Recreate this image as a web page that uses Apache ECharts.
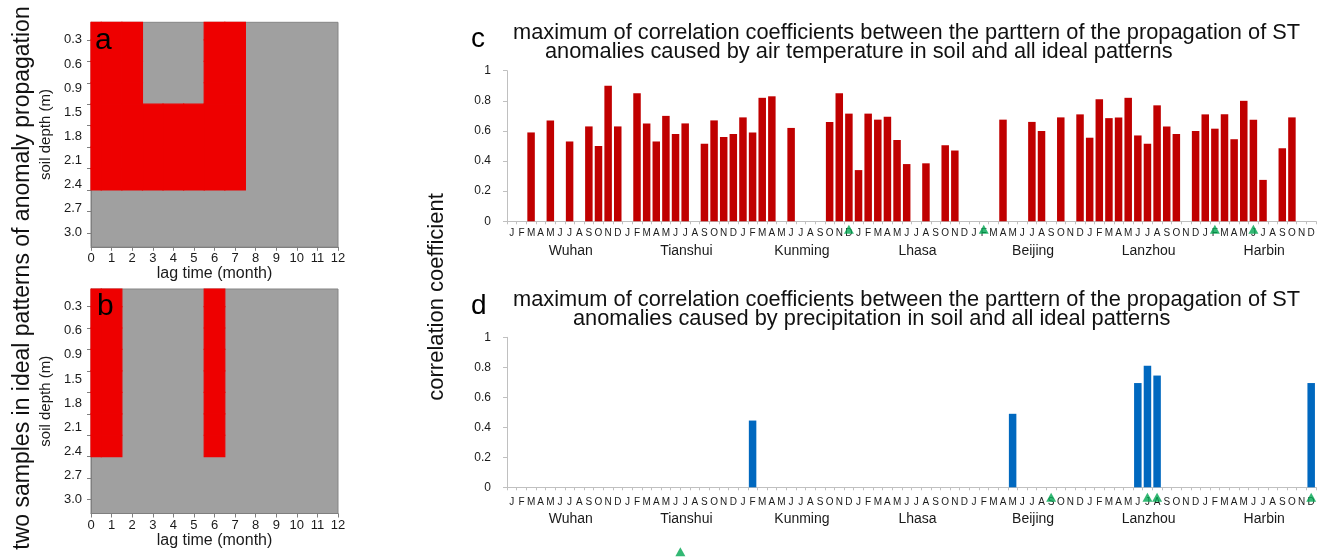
<!DOCTYPE html>
<html>
<head>
<meta charset="utf-8">
<script src="https://cdn.jsdelivr.net/npm/echarts@6/dist/echarts.min.js"></script>
<style>
  html, body { margin: 0; padding: 0; background: #fff; }
  #chart { width: 1324px; height: 560px; }
</style>
</head>
<body>
<div id="chart"></div>
<script>
// ---- data ----
const months = ['J', 'F', 'M', 'A', 'M', 'J', 'J', 'A', 'S', 'O', 'N', 'D'];
const stations = ['Wuhan', 'Tianshui', 'Kunming', 'Lhasa', 'Beijing', 'Lanzhou', 'Harbin'];
const depthLabels = ['0.3', '0.6', '0.9', '1.5', '1.8', '2.1', '2.4', '2.7', '3.0'];
const depthLevels = 10;          // soil layers marked by ticks
const lagMax = 12;               // months of lag

// ideal patterns: rows = soil layers (top to bottom), columns = lag 0..12; 1 = anomaly present
const patternA = [
  [1, 1, 1, 0, 0, 0, 1, 1, 0, 0, 0, 0, 0],
  [1, 1, 1, 0, 0, 0, 1, 1, 0, 0, 0, 0, 0],
  [1, 1, 1, 0, 0, 0, 1, 1, 0, 0, 0, 0, 0],
  [1, 1, 1, 0, 0, 0, 1, 1, 0, 0, 0, 0, 0],
  [1, 1, 1, 1, 1, 1, 1, 1, 0, 0, 0, 0, 0],
  [1, 1, 1, 1, 1, 1, 1, 1, 0, 0, 0, 0, 0],
  [1, 1, 1, 1, 1, 1, 1, 1, 0, 0, 0, 0, 0],
  [1, 1, 1, 1, 1, 1, 1, 1, 0, 0, 0, 0, 0],
  [0, 0, 0, 0, 0, 0, 0, 0, 0, 0, 0, 0, 0],
  [0, 0, 0, 0, 0, 0, 0, 0, 0, 0, 0, 0, 0],
  [0, 0, 0, 0, 0, 0, 0, 0, 0, 0, 0, 0, 0]
];
const patternB = [
  [1, 1, 0, 0, 0, 0, 1, 0, 0, 0, 0, 0, 0],
  [1, 1, 0, 0, 0, 0, 1, 0, 0, 0, 0, 0, 0],
  [1, 1, 0, 0, 0, 0, 1, 0, 0, 0, 0, 0, 0],
  [1, 1, 0, 0, 0, 0, 1, 0, 0, 0, 0, 0, 0],
  [1, 1, 0, 0, 0, 0, 1, 0, 0, 0, 0, 0, 0],
  [1, 1, 0, 0, 0, 0, 1, 0, 0, 0, 0, 0, 0],
  [1, 1, 0, 0, 0, 0, 1, 0, 0, 0, 0, 0, 0],
  [1, 1, 0, 0, 0, 0, 1, 0, 0, 0, 0, 0, 0],
  [0, 0, 0, 0, 0, 0, 0, 0, 0, 0, 0, 0, 0],
  [0, 0, 0, 0, 0, 0, 0, 0, 0, 0, 0, 0, 0],
  [0, 0, 0, 0, 0, 0, 0, 0, 0, 0, 0, 0, 0]
];

// maximum correlation per station and month (null = not significant)
const tempCorr = [
  [null, null, 0.59, null, 0.67, null, 0.53, null, 0.63, 0.50, 0.90, 0.63],   // Wuhan
  [null, 0.85, 0.65, 0.53, 0.70, 0.58, 0.65, null, 0.515, 0.67, 0.56, 0.58],  // Tianshui
  [0.69, 0.59, 0.82, 0.83, null, 0.62, null, null, null, 0.66, 0.85, 0.715],  // Kunming
  [0.34, 0.715, 0.675, 0.695, 0.54, 0.38, null, 0.385, null, 0.505, 0.47, null], // Lhasa
  [null, null, null, 0.675, null, null, 0.66, 0.60, null, 0.69, null, 0.71],  // Beijing
  [0.555, 0.81, 0.685, 0.69, 0.82, 0.57, 0.515, 0.77, 0.63, 0.58, null, 0.60], // Lanzhou
  [0.71, 0.615, 0.71, 0.545, 0.80, 0.675, 0.275, null, 0.485, 0.69, null, null] // Harbin
];
const precipCorr = [
  [null, null, null, null, null, null, null, null, null, null, null, null],
  [null, null, null, null, null, null, null, null, null, null, null, null],
  [null, 0.445, null, null, null, null, null, null, null, null, null, null],
  [null, null, null, null, null, null, null, null, null, null, null, null],
  [null, null, null, null, 0.49, null, null, null, null, null, null, null],
  [null, null, null, null, null, 0.695, 0.81, 0.745, null, null, null, null],
  [null, null, null, null, null, null, null, null, null, null, null, 0.695]
];

// highlighted station-months [station, month index]
const tempMarks = [['Kunming', 11], ['Beijing', 1], ['Harbin', 1], ['Harbin', 5]];
const precipMarks = [['Beijing', 8], ['Lanzhou', 6], ['Lanzhou', 7], ['Harbin', 11]];
const precipStationMarks = ['Tianshui'];

// ---- helpers ----
const FONT = '"Liberation Sans", Arial, Helvetica, sans-serif';
const TXT = '#1a1a1a';
const monthKeys = stations.flatMap(s => months.map((m, i) => s + '|' + i));
const flatten = rows => rows.flat();
const markIndex = marks => marks.map(([s, m]) => [stations.indexOf(s) * 12 + m, 0]);
const cells = pattern => {
  const out = [];
  pattern.forEach((row, r) => row.forEach((v, c) => { if (v) out.push([c, r]); }));
  return out;
};

const Y_TOP = -0.82, Y_BOTTOM = 9.65;   // layer-axis extent, in tick units

function cellRenderer(params, api) {
  const c = api.value(0), r = api.value(1);
  const x0 = Math.max(c - 0.5, 0), x1 = Math.min(c + 0.5, lagMax);
  const y0 = Math.max(r - 1, Y_TOP), y1 = Math.min(r, Y_BOTTOM);
  const p0 = api.coord([x0, y0]), p1 = api.coord([x1, y1]);
  return {
    type: 'rect',
    shape: {
      x: Math.min(p0[0], p1[0]), y: Math.min(p0[1], p1[1]),
      width: Math.abs(p1[0] - p0[0]), height: Math.abs(p1[1] - p0[1])
    },
    style: { fill: '#ee0000', stroke: '#ee0000', lineWidth: 1.2 }
  };
}

const depthTickValues = Array.from({ length: depthLevels }, (_, k) => k);
const depthLabelValues = depthLabels.map((_, i) => i * (depthLevels - 1) / (depthLabels.length - 1));

function patternXAxis(gridIndex) {
  return {
    gridIndex, type: 'value', min: 0, max: lagMax, interval: 1,
    name: 'lag time (month)', nameLocation: 'middle', nameGap: 18,
    nameTextStyle: { fontSize: 16, color: TXT, fontFamily: FONT },
    axisLine: { show: true, onZero: false, lineStyle: { color: '#7f7f7f', width: 1 } },
    axisTick: { show: true, length: 4, lineStyle: { color: '#7f7f7f' } },
    axisLabel: { margin: 5, fontSize: 13, color: TXT, fontFamily: FONT },
    splitLine: { show: false }
  };
}
function patternYAxis(gridIndex) {
  return {
    gridIndex, type: 'value', inverse: true, min: Y_TOP, max: Y_BOTTOM,
    name: 'soil depth (m)', nameLocation: 'middle', nameGap: 38, nameRotate: 90,
    nameTextStyle: { fontSize: 15, color: TXT, fontFamily: FONT },
    axisLine: { show: true, onZero: false, lineStyle: { color: '#7f7f7f', width: 1 } },
    axisTick: { show: true, length: 4, customValues: depthTickValues, lineStyle: { color: '#7f7f7f' } },
    axisLabel: {
      customValues: depthLabelValues, margin: 9, fontSize: 13, color: TXT, fontFamily: FONT,
      formatter: v => depthLabels[Math.round(v * (depthLabels.length - 1) / (depthLevels - 1))]
    },
    splitLine: { show: false }
  };
}
function monthXAxis(gridIndex, margin) {
  return {
    gridIndex, type: 'category', data: monthKeys, boundaryGap: true,
    axisLine: { show: true, lineStyle: { color: '#c0c0c0' } },
    axisTick: { show: true, interval: 0, length: 3, lineStyle: { color: '#c0c0c0' } },
    axisLabel: {
      interval: 0, margin, fontSize: 10, color: TXT, fontFamily: FONT,
      formatter: v => months[+v.split('|')[1]]
    },
    splitLine: { show: false }
  };
}
function corrYAxis(gridIndex) {
  return {
    gridIndex, type: 'value', min: 0, max: 1, interval: 0.2,
    axisLine: { show: true, lineStyle: { color: '#c0c0c0' } },
    axisTick: { show: true, length: 4, lineStyle: { color: '#c0c0c0' } },
    axisLabel: { margin: 16, fontSize: 12, color: TXT, fontFamily: FONT },
    splitLine: { show: false }
  };
}
function stationXAxis(gridIndex, margin) {
  return {
    gridIndex, type: 'category', data: stations, boundaryGap: true,
    axisLine: { show: false }, axisTick: { show: false },
    axisLabel: { interval: 0, margin, fontSize: 14, color: TXT, fontFamily: FONT, padding: [0, 0, 0, 12] },
    splitLine: { show: false }
  };
}
const hiddenY = gridIndex => ({ gridIndex, type: 'value', min: 0, max: 1, show: false });

const patternGrid = top => ({
  left: 91, top, width: 247, height: 224.5, show: true,
  backgroundColor: '#a0a0a0', borderColor: '#858585', borderWidth: 1
});
const gridC = { left: 507, top: 70.7, width: 809, height: 150.6 };
const gridD = { left: 507, top: 337.3, width: 809, height: 150 };

const triangle = (xi, yi, data, offset) => ({
  type: 'scatter', xAxisIndex: xi, yAxisIndex: yi, data, clip: false, z: 5,
  symbol: 'triangle', symbolSize: [10, 9], symbolOffset: [0, offset],
  itemStyle: { color: '#00a651' }, silent: true
});

const titleLine = (text, x, y) => ({
  type: 'text', x, y,
  style: { text, fontSize: 21.8, fontFamily: FONT, fill: '#111', align: 'left', verticalAlign: 'middle' }
});
const panelLetter = (text, x, y, size) => ({
  type: 'text', x, y, z: 10,
  style: { text, fontSize: size, fontFamily: FONT, fill: '#000', align: 'left', verticalAlign: 'middle' }
});
const titleHead = 'maximum of correlation coefficients between the parttern of the propagation of ST';

const chart = echarts.init(document.getElementById('chart'), null, { renderer: 'canvas' });
chart.setOption({
  animation: false,
  backgroundColor: '#fff',
  textStyle: { fontFamily: FONT },
  grid: [patternGrid(22.3), patternGrid(289), gridC, gridD, gridC, gridD],
  xAxis: [
    patternXAxis(0), patternXAxis(1),
    monthXAxis(2, 7), monthXAxis(3, 10),
    stationXAxis(4, 22.5), stationXAxis(5, 24.5)
  ],
  yAxis: [
    patternYAxis(0), patternYAxis(1),
    corrYAxis(2), corrYAxis(3),
    hiddenY(4), hiddenY(5)
  ],
  series: [
    { type: 'custom', xAxisIndex: 0, yAxisIndex: 0, data: cells(patternA), renderItem: cellRenderer, silent: true },
    { type: 'custom', xAxisIndex: 1, yAxisIndex: 1, data: cells(patternB), renderItem: cellRenderer, silent: true },
    {
      type: 'bar', xAxisIndex: 2, yAxisIndex: 2, data: flatten(tempCorr), barWidth: 7.5,
      itemStyle: { color: '#c00000' }, silent: true
    },
    {
      type: 'bar', xAxisIndex: 3, yAxisIndex: 3, data: flatten(precipCorr), barWidth: 7.5,
      itemStyle: { color: '#0068bf' }, silent: true
    },
    triangle(2, 2, markIndex(tempMarks), 8),
    triangle(3, 3, markIndex(precipMarks), 10),
    triangle(5, 5, precipStationMarks.map(s => [s, 0]), 64.5)
  ],
  graphic: [
    {
      type: 'text', x: 23, y: 278, rotation: Math.PI / 2,
      style: {
        text: 'two samples in ideal patterns of anomaly propagation',
        fontSize: 23, fontFamily: FONT, fill: '#111', align: 'center', verticalAlign: 'middle'
      }
    },
    {
      type: 'text', x: 437, y: 297, rotation: Math.PI / 2,
      style: {
        text: 'correlation coefficient',
        fontSize: 22, fontFamily: FONT, fill: '#111', align: 'center', verticalAlign: 'middle'
      }
    },
    panelLetter('a', 95, 41, 30),
    panelLetter('b', 97, 307, 30),
    panelLetter('c', 471, 39.5, 28),
    panelLetter('d', 471, 306, 28),
    titleLine(titleHead, 513, 33),
    titleLine('anomalies caused by air temperature in soil and all ideal patterns', 545, 52),
    titleLine(titleHead, 513, 299.5),
    titleLine('anomalies caused by precipitation in soil and all ideal patterns', 573, 318.5)
  ]
});
</script>
</body>
</html>
